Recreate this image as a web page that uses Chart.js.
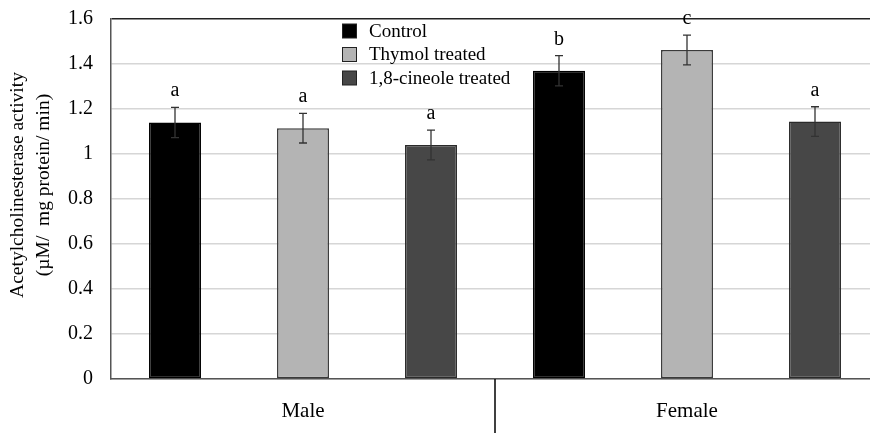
<!DOCTYPE html>
<html>
<head>
<meta charset="utf-8">
<script src="https://cdn.jsdelivr.net/npm/chart.js@4.4.0/dist/chart.umd.min.js"></script>
<style>
  html, body { margin: 0; padding: 0; background: #fff; overflow: hidden; }
  #wrap { width: 880px; height: 433px; }
</style>
</head>
<body>
<div id="wrap"><canvas id="chart"></canvas></div>
<script>
const groups = ['Male', 'Female']
const seriesNames = ['Control', 'Thymol treated', '1,8-cineole treated']
const control = [1.14, 1.37]
const thymol = [1.115, 1.462]
const cineole = [1.04, 1.144]
const controlErr = [0.067, 0.067]
const thymolErr = [0.066, 0.066]
const cineoleErr = [0.066, 0.066]
const controlLetters = ['a', 'b']
const thymolLetters = ['a', 'c']
const cineoleLetters = ['a', 'a']
const yTicks = [0, 0.2, 0.4, 0.6, 0.8, 1, 1.2, 1.4, 1.6]
const yTitle = ['Acetylcholinesterase activity', '(\u00b5M/  mg protein/ min)']

const fills = ['#000000', '#b4b4b4', '#474747']
const borders = ['#000000', '#3a3a3a', '#2a2a2a']
const errs = [controlErr, thymolErr, cineoleErr]
const letters = [controlLetters, thymolLetters, cineoleLetters]
const serif = "'Liberation Serif', 'DejaVu Serif', serif"

// error bars, letters, legend, axis title and the category divider
const extras = {
    id: 'extras',
    afterDatasetsDraw(chart) {
        const c = chart.ctx
        const y = chart.scales.y
        const x = chart.scales.x
        c.save()
        chart.data.datasets.forEach((ds, di) => {
            chart.getDatasetMeta(di).data.forEach((bar, i) => {
                const v = ds.data[i], e = errs[di][i]
                const top = y.getPixelForValue(v + e)
                const bot = y.getPixelForValue(v - e)
                c.strokeStyle = '#333'
                c.lineWidth = 1.3
                c.beginPath()
                c.moveTo(bar.x, top); c.lineTo(bar.x, bot)
                c.moveTo(bar.x - 4, top); c.lineTo(bar.x + 4, top)
                c.moveTo(bar.x - 4, bot); c.lineTo(bar.x + 4, bot)
                c.stroke()
                c.fillStyle = '#000'
                c.font = '20px ' + serif
                c.textAlign = 'center'
                c.textBaseline = 'alphabetic'
                c.fillText(letters[di][i], bar.x, top - 11)
            })
        })

        // divider between groups
        const mid = x.getPixelForValue(0.5)
        c.strokeStyle = '#000'
        c.lineWidth = 1.5
        c.beginPath()
        c.moveTo(mid, chart.chartArea.bottom)
        c.lineTo(mid, chart.height)
        c.stroke()

        // legend
        c.font = '19px ' + serif
        c.textAlign = 'left'
        c.textBaseline = 'middle'
        seriesNames.forEach((name, i) => {
            const ly = 31 + i * 23.5
            c.fillStyle = fills[i]
            c.fillRect(342.5, ly - 7, 14, 14)
            c.strokeStyle = '#222'
            c.lineWidth = 1
            c.strokeRect(342.5, ly - 7, 14, 14)
            c.fillStyle = '#000'
            c.fillText(name, 369, ly + 1)
        })

        // y axis title, two lines
        c.fillStyle = '#000'
        c.font = '19.5px ' + serif
        c.textAlign = 'center'
        c.textBaseline = 'middle'
        yTitle.forEach((line, i) => {
            c.save()
            c.translate(18 + i * 26, 185)
            c.rotate(-Math.PI / 2)
            c.fillText(line, 0, 0)
            c.restore()
        })
        c.restore()
    }
}

new Chart(document.getElementById('chart'), {
    type: 'bar',
    data: {
        labels: groups,
        datasets: [
            { label: seriesNames[0], data: control },
            { label: seriesNames[1], data: thymol },
            { label: seriesNames[2], data: cineole }
        ].map((d, i) => Object.assign(d, {
            backgroundColor: fills[i],
            borderColor: borders[i],
            borderWidth: 1.5,
            borderSkipped: false,
            categoryPercentage: 1.0,
            barPercentage: 0.406
        }))
    },
    options: {
        responsive: true,
        maintainAspectRatio: false,
        animation: false,
        layout: { autoPadding: false, padding: { top: 19, right: 1, left: 0, bottom: 0 } },
        plugins: {
            legend: { display: false },
            tooltip: { enabled: false }
        },
        scales: {
            x: {
                grid: { display: false, drawTicks: false },
                border: { display: true, color: '#555', width: 1.5 },
                ticks: { color: '#000', padding: 20, font: { family: serif, size: 21 } },
                afterFit: (s) => { s.height = 54 }
            },
            y: {
                min: 0, max: 1.6,
                afterBuildTicks: (s) => { s.ticks = yTicks.map(v => ({ value: v })) },
                grid: {
                    color: (ctx) => ctx.tick && ctx.tick.value === 1.6 ? '#222' : '#d6d6d6',
                    lineWidth: 1.5,
                    drawTicks: false
                },
                border: { display: true, color: '#555', width: 1.5 },
                ticks: {
                    color: '#000', padding: 18,
                    font: { family: serif, size: 20 },
                    callback: (v) => String(v)
                },
                afterFit: (s) => {
                    s.width = 111
                    s.paddingTop = 0
                    s.paddingBottom = 0
                }
            }
        }
    },
    plugins: [extras]
})
</script>
</body>
</html>
